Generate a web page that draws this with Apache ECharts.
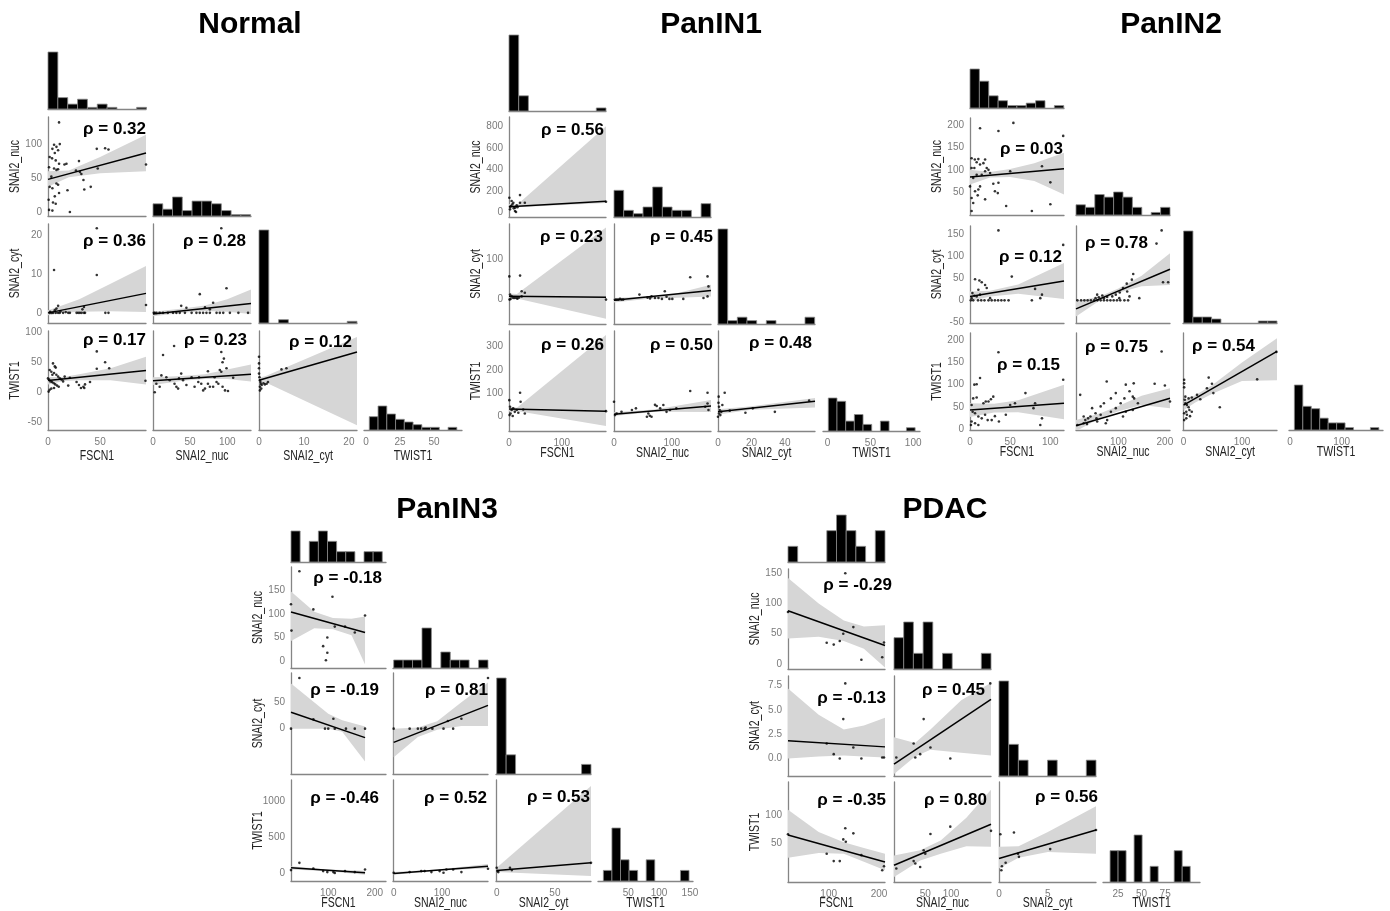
<!DOCTYPE html>
<html><head><meta charset="utf-8">
<script src="https://cdn.jsdelivr.net/npm/echarts@6/dist/echarts.min.js"></script>
<style>html,body{margin:0;padding:0;background:#fff}#c{width:1390px;height:911px}</style>
</head><body><div id="c"></div>
<script>
// ---------------- DATA ----------------
const VARS = ['FSCN1', 'SNAI2_nuc', 'SNAI2_cyt', 'TWIST1'];
// cell order used by all per-cell arrays: (row,col)
const CELL_ORDER = [[1, 0], [2, 0], [2, 1], [3, 0], [3, 1], [3, 2]];

// ---- Normal ----
const normalXRange = [[0, 94], [0, 132], [0, 21.8], [-1.5, 70.6]];
const normalYRange = [null, [-6, 140], [-2.6, 22.8], [-63, 102]];
const normalXTicks = [[0, 50], [0, 50, 100], [0, 10, 20], [0, 25, 50]];
const normalYTicks = [null, [0, 50, 100], [0, 10, 20], [-50, 0, 50, 100]];
const normalHistBins = [[0, 94.5], [0, 131.5], [0, 21.8], [2.4, 66.8]];
const normalHistCounts = [
  [35, 7, 3, 6, 1, 3, 1, 0, 0, 1],
  [9, 5, 14, 4, 11, 11, 9, 4, 1, 1],
  [56, 0, 2, 0, 0, 0, 0, 0, 0, 1],
  [5, 9, 6, 4, 3, 2, 1, 1, 0, 1]
];
const normalPts10 = [[10.6,132],[5.8,99],[8.1,96],[11.3,100],[4.2,93],[9.7,91],[6.5,87],[1.6,81],[3.9,79],[7.4,76],[10.6,71],[15.8,70],[5.8,64],[8.1,62],[9.7,63],[1,66],[3.2,52],[8.1,42],[9.7,40],[1.6,37],[4.2,35],[10.6,28],[6.5,23],[4.8,14],[7.4,12],[0.6,18],[1,3],[4.2,2],[21,0],[18.7,32],[17.7,71],[29.7,75],[26.8,61],[30.6,59],[32,56],[34,47],[34.8,33],[41,37],[46.8,93],[47.7,64],[54.8,94],[58,92],[94,70]];
const normalPts20 = [[46.8,21.7],[5.8,11],[46.8,9.7],[9.7,1.8],[8.1,1.1],[6.5,0.7],[1.6,0],[3.2,0],[4.8,0],[7.4,0],[9.7,0],[11.3,0],[14.5,0],[19.4,0],[21,0],[27.4,0],[29,0],[30.6,0],[32.3,0],[34.5,0],[35.5,0],[55,0],[58,0],[34.5,1.5],[33,0.9],[94,2],[2,0.3],[12,0.4],[17,0.2]];
const normalPts21 = [[92,21.7],[99,6.3],[63,4.8],[38,1.8],[45,1.3],[81,2.6],[70,1.4],[76.6,0.9],[1,0],[4.5,0],[9,0],[13.5,0],[20,0],[27,0],[31.5,0],[36,0],[43,0],[52,0],[58.5,0],[63,0],[67.5,0],[72,0],[76.6,0],[85.6,0],[90,0],[94.6,0],[103.6,0],[115,0],[128,0],[2,0]];
const normalPts30 = [[46.8,68],[54.8,50],[58.7,40],[46.8,39],[93.5,19],[40.3,17],[35.5,13],[33.9,9],[31.6,7],[34.8,7],[29.7,12],[27.4,17],[19.4,11],[21,24],[16,26],[4.8,48],[6.5,43],[7.4,41],[1.6,37],[3.2,34],[4.2,29],[5.8,32],[8,29],[9.7,26],[11.3,23],[1,21],[2.3,18],[3.9,17],[5.5,15],[7,13],[8.7,11],[10.3,9],[1.6,4],[3.2,6],[5.8,7],[12.9,21],[14.5,18],[0,23],[0.6,1]];
const normalPts31 = [[92,67],[28.4,77],[95.5,56],[93.7,50],[99,40],[90,37],[92,34],[13.5,62],[11.3,28],[38,31],[35,23],[40.5,20],[52,25],[62,25],[74,35],[83,25],[85.6,17],[88,14],[81,9],[93.7,9],[9,9],[4.5,14],[22.5,20],[29,14],[31.5,9],[33.8,6],[45,12],[56,9],[61,17],[65,14],[67.6,3],[70,6],[74,14],[76.6,9],[97,3],[101,2],[108,24],[2.3,0],[18,25]];
const normalPts32 = [[0,59],[0,48],[0,40],[0,31],[0.2,20],[0.4,14],[0.2,9],[0.2,3],[0.6,12],[1,15],[1.3,13],[1.7,14],[2,17],[5,38],[6.1,40],[0.1,25],[0.3,17],[0.5,6]];
const normalFits = [[0,48,94,87],[0,0,94,5],[0,-0.3,132,2.4],[0,19.4,94,36],[0,19,132,30],[0,20,21.8,67]];
const normalBands = [
  [[0,37,60],[20,51,61],[50,57,81],[94,60,114]],
  [[0,-0.6,0.7],[10,-0.1,1.6],[30,0.3,3.5],[60,0.4,7.5],[94,0.2,12]],
  [[0,-0.9,0.3],[40,0,1.1],[70,0.5,1.9],[100,0.3,3.5],[132,-0.3,6]],
  [[0,13,25.5],[15,18.5,25.5],[30,20,30],[60,20,40],[94,13,59]],
  [[0,12,25],[40,19,27],[70,22,30],[100,22,38],[132,18,46]],
  [[0,14,24],[1.5,16,27],[21.8,-55,92]]
];
const normalRho = ['0.32', '0.36', '0.28', '0.17', '0.23', '0.12'];

// ---- PanIN1 ----
const panin1XRange = [[0, 184], [0, 168], [0, 58], [-5.4, 108]];
const panin1YRange = [null, [-40, 886], [-61, 189], [-61, 367]];
const panin1XTicks = [[0, 100], [0, 100], [0, 20, 40], [0, 50, 100]];
const panin1YTicks = [null, [0, 200, 400, 600, 800], [0, 100], [0, 100, 200, 300]];
const panin1HistBins = [[0, 184], [0, 167.6], [0, 57.8], [0.8, 102.3]];
const panin1HistCounts = [
  [25, 5, 0, 0, 0, 0, 0, 0, 0, 1],
  [8, 2, 1, 3, 9, 3, 2, 2, 0, 4],
  [28, 1, 2, 1, 0, 1, 0, 0, 0, 2],
  [10, 9, 3, 5, 2, 0, 3, 0, 0, 1]
];
const panin1Pts10 = [[1.9,31],[3.8,62],[6.3,77],[8.2,92],[11.4,46],[14.6,68],[0.6,138],[20.9,163],[20.9,92],[11.4,15],[13.3,6],[30,92],[5,108],[2,55],[184,101],[9,40],[16,50]];
const panin1Pts20 = [[0.6,58],[21,60],[24,21],[30,17],[2,12.5],[5,8],[8,4],[11,4],[14.6,4],[3,1.7],[1,0],[24,8],[184,0],[16,2],[19,5]];
const panin1Pts21 = [[132,56],[162,58],[163.6,33],[162,8],[155,4],[91,7],[88,21],[44,12.5],[58,5],[62.4,3],[65,8],[71,4],[77,4],[83,1.7],[96,1.7],[101,1.7],[120,1.7],[1.7,0],[4.6,0],[7.5,0],[10.4,1.7],[13.3,0],[16,0]];
const panin1Pts30 = [[0.6,71],[21,103],[22,64],[1.9,43],[5,29],[8,36],[11,21],[14.6,29],[3,14],[17.7,17],[1,7],[27,31],[30,14],[7,3],[184,24]];
const panin1Pts31 = [[132,110],[162,103],[162,57],[163.6,29],[158,43],[85.5,50],[80,36],[74,46],[71,51],[59.5,14],[62,4],[38,36],[31,29],[57,0],[65,0],[13,21],[4.6,14],[1.7,7],[0,64],[97,29],[91,21],[108,36]];
const panin1Pts32 = [[4,103],[0.4,86],[0.6,43],[2.6,50],[1,29],[2,21],[0.6,14],[1.4,7],[7,26],[16.4,17],[20.8,36],[34,21],[54.5,69],[0,0],[0.3,60]];
const panin1Fits = [[0,55,184,105],[0,8.3,184,5.8],[0,-1.7,168,23],[0,33,184,24],[0,11,168,46],[0,21,58,66]];
const panin1Bands = [
  [[0,35,80],[15,50,72],[184,90,800]],
  [[0,2,15],[15,3,14],[184,-48,180]],
  [[0,-7,4],[60,2,8],[100,4,13],[168,8,37]],
  [[0,22,44],[15,25,38],[184,-40,350]],
  [[0,3,19],[70,21,31],[168,20,72]],
  [[0,10,32],[20,30,45],[58,40,80]]
];
const panin1Rho = ['0.56', '0.23', '0.45', '0.26', '0.50', '0.48'];

// ---- PanIN2 ----
const panin2XRange = [[0, 117], [9, 211], [-1, 160], [-2, 180]];
const panin2YRange = [null, [-1, 216], [-51.5, 169], [-2.3, 216.6]];
const panin2XTicks = [[0, 50, 100], [100, 200], [0, 100], [0, 100]];
const panin2YTicks = [null, [50, 100, 150, 200], [-50, 0, 50, 100, 150], [0, 50, 100, 150, 200]];
const panin2HistBins = [[0, 116.7], [9, 211], [0, 160], [8.4, 172]];
const panin2HistCounts = [
  [16, 11, 5, 3, 1, 1, 2, 3, 0, 1],
  [4, 3, 8, 7, 9, 7, 3, 0, 1, 3],
  [46, 3, 3, 2, 0, 0, 0, 0, 1, 1],
  [19, 10, 9, 5, 3, 3, 1, 0, 0, 1]
];
const panin2Pts10 = [[12.5,193],[54,205],[35.4,187],[116,176],[2,126],[6,123],[8.3,117],[10.4,124],[12.5,112],[16.7,115],[18.8,123],[20.8,104],[23,100],[18.8,97],[25,93],[14.6,89],[5.4,104],[2,104],[4,82],[8.3,89],[12.5,63],[10.4,56],[6.3,52],[9.6,43],[18.8,34],[2,37],[29,69],[35.4,71],[31,52],[34.6,48],[45,19],[50,97],[77,8],[89.6,108],[100,72],[100,23],[2,8],[4,26],[0,63]];
const panin2Pts20 = [[35.4,159],[116,126],[6.3,48],[11.7,45],[14.6,41],[18.8,35],[20.8,28],[10.4,24],[3,16.5],[5.4,10.5],[8.3,9],[12.5,13],[2,5],[1,0],[4,0],[10,0],[14,0],[18,0],[23,0],[27,0],[31,0],[35,0],[39,0],[43,0],[48,0],[25,5],[52,54],[81,26],[87.5,5],[89.6,13],[77,0]];
const panin2Pts21 = [[193,159],[182,129],[207,41],[196,41],[132,60],[129,47],[118,38],[110,28],[103,18],[94.5,13],[87,9],[76,7.5],[69,5],[58,7],[51,5],[119,20],[124,9],[102,5],[113,0],[121,0],[145,5],[54.5,13],[65.5,11],[12,0],[20,0],[27,0],[34,0],[41,0],[48,0],[55,0],[62,0],[69,0],[76,0],[83,0],[90,0],[97,0],[104,0]];
const panin2Pts30 = [[35.4,173],[116,111],[69,81],[5.4,100],[8.3,101],[12.5,115],[4,69],[8.3,71],[16.7,58],[19.6,62],[23,62],[26,67],[29,73],[2,54],[3.3,39],[6.3,35.5],[10.4,28],[14.6,24],[18.8,32],[22,20],[27,20],[31,29],[36,17],[44.6,32],[50,54],[56,58],[2,17],[1.2,9],[6.3,13],[10.4,9],[79,47],[87.5,9],[89.6,24],[81,58]];
const panin2Pts31 = [[193,175],[178,102],[200,98],[211,62],[133,103],[116,100],[124,85],[131,73],[134,69],[142,58],[131,43],[75,107],[94.5,81],[84,69],[69,58],[62,51],[43.6,47],[51,35.5],[40,28],[35,24],[29,20],[25.5,13],[32.7,11],[18,77],[12,9],[84,39],[94.5,47],[105,58],[110,28],[116,39],[76,20],[73,13],[62,32],[53,24],[54.5,17],[25.5,28],[113,69]];
const panin2Pts32 = [[159,174],[126,112],[43,116],[48.6,102],[40,92],[23,77],[8.6,69],[14,71],[1,111],[1,103],[1,94],[3,73],[2,66],[3,58],[5.7,54],[8.6,49],[10,43],[4.6,39],[1,35.5],[5.7,32],[11,29],[14,39],[62,49],[28.6,67],[51,81],[1,20],[4.6,24]];
const panin2Fits = [[0,84,117,102.6],[0,9,117,44],[9,-19.5,211,70.7],[0,43,117,58],[9,7.5,211,69.4],[0,54,160,175]];
const panin2Bands = [
  [[0,67,100],[25,83,95],[50,84,102],[80,75,115],[117,45,138]],
  [[0,-2,20],[25,9,22],[60,15,36],[117,3,85]],
  [[9,-37,-2],[60,-0.5,9],[100,17,27],[150,32,56],[211,35,107]],
  [[0,27,58],[30,37,57],[60,38,65],[117,22,100]],
  [[9,-5,20],[60,24,35],[100,40,52],[150,54,75],[211,47,92]],
  [[0,42,65],[20,60,76],[50,80,100],[100,108,150],[160,110,205]]
];
const panin2Rho = ['0.03', '0.12', '0.78', '0.15', '0.75', '0.54'];

// ---- PanIN3 ----
const panin3XRange = [[20, 224], [-1.4, 195], [-0.6, 81], [1, 155]];
const panin3YRange = [null, [-14.4, 200], [-85.6, 105], [-106, 1300]];
const panin3XTicks = [[100, 200], [0, 100], [0, 50], [50, 100, 150]];
const panin3YTicks = [null, [0, 50, 100, 150], [0, 50], [0, 500, 1000]];
const panin3HistBins = [[20, 216], [0, 195], [0, 81], [9.7, 148.6]];
const panin3HistCounts = [
  [3, 0, 2, 3, 2, 1, 1, 0, 1, 1],
  [1, 1, 1, 5, 0, 2, 1, 1, 0, 1],
  [10, 2, 0, 0, 0, 0, 0, 0, 0, 1],
  [1, 5, 2, 1, 0, 2, 0, 0, 0, 1]
];
const panin3Pts10 = [[38,191],[20,121],[68,110],[109,137],[114,73.5],[136,73.5],[157,61],[179,97],[21,65],[98,50.5],[89,32],[98,18],[95,2]];
const panin3Pts20 = [[38,95.6],[20,0],[68,17.5],[93,0],[100,0],[111,18.8],[114,0],[138,0],[157,0],[179,0]];
const panin3Pts21 = [[195,95.6],[140,18.8],[112,14.4],[103,0],[80,0],[64,0],[57,0],[50,0],[33,0],[0,0],[123,0],[66,2]];
const panin3Pts30 = [[38,147],[20,46],[68,69],[89,32],[98,18],[111,18],[114,5],[136,32],[157,18],[179,55]];
const panin3Pts31 = [[195,64.5],[140,18],[123,55],[109,55],[95,32],[78,18],[57,32],[33,18],[0,9],[64,32],[103,9]];
const panin3Pts32 = [[0,78],[0.6,32],[1.4,18],[11.4,78],[13,46],[81,147]];
const panin3Fits = [[20,104.5,179,61],[20,31,179,-17],[0,-26,195,44],[20,78,179,9],[0,0,195,101],[0,41,81,147]];
const panin3Bands = [
  [[20,43,148],[70,70,105],[110,68,92],[150,55,90],[179,-7,95]],
  [[20,0,85],[100,0,28],[130,-6,16],[179,-62,4]],
  [[0,-54,0],[50,-16,2],[90,-2,14],[140,5,50],[195,5,87]],
  [[20,55,100],[100,30,55],[179,-20,38]],
  [[0,-18,18],[90,35,55],[195,70,132]],
  [[0,18,78],[81,-37,1217]]
];
const panin3Rho = ['-0.18', '-0.19', '0.81', '-0.46', '0.52', '0.53'];

// ---- PDAC ----
const pdacXRange = [[19, 212], [-11, 178], [0, 9.93], [9, 112]];
const pdacYRange = [null, [-8.3, 157], [-1.8, 8.5], [-17.6, 157.6]];
const pdacXTicks = [[100, 200], [50, 100], [0, 5], [25, 50, 75]];
const pdacYTicks = [null, [0, 50, 100, 150], [0, 2.5, 5, 7.5], [50, 100]];
const pdacHistBins = [[19, 212], [-11, 178], [0, 9.93], [16.5, 101.6]];
const pdacHistCounts = [
  [1, 0, 0, 0, 2, 3, 2, 1, 0, 2],
  [2, 3, 1, 3, 0, 1, 0, 0, 0, 1],
  [6, 2, 1, 0, 0, 1, 0, 0, 0, 1],
  [2, 2, 0, 3, 0, 1, 0, 0, 2, 1]
];
const pdacPts10 = [[19,86],[133,150],[96,35],[110,32],[122,38],[129,50],[149,61],[165,7],[206.5,11],[210,35.5]];
const pdacPts20 = [[133,7.74],[129,4.06],[96,1.55],[110,0.45],[122,0],[149,1.13],[165,0],[206.5,0.1],[210,0.1]];
const pdacPts21 = [[176.6,7.74],[46.8,4.06],[27.3,1.55],[40,0.45],[30.5,0.1],[60,1.13],[98.7,0],[-6.5,0.1]];
const pdacPts30 = [[19,66],[133,76.5],[149,67.6],[96,32],[110,19],[122,19],[129,57],[134,53],[165,29.4],[206.5,3],[210,10]];
const pdacPts31 = [[178,72],[98.7,79.4],[60,66.5],[46.8,38],[50,32],[27.3,19],[30.5,14.7],[-6.5,6],[40,8.8]];
const pdacPts32 = [[0.14,66],[1.53,69],[5.24,40],[2.04,26.5],[1.94,32],[0.68,16],[0.3,10],[0.24,3],[9.93,73.5]];
const pdacFits = [[19,88,212,30.5],[19,1.82,212,1.2],[-11,-0.58,178,6.1],[19,64.7,212,17.6],[-11,11.8,178,83.5],[0,23.5,9.93,73.5]];
const pdacBands = [
  [[19,42,142],[80,45,100],[130,38,72],[170,25,62],[212,-6,64]],
  [[19,0,7.2],[80,0.2,4.5],[130,0.3,3.0],[170,0.2,3.4],[212,0.1,4.2]],
  [[-11,-1.6,2.2],[30,0.2,1.6],[60,0.9,3.0],[120,0.6,6],[178,0.3,7.8]],
  [[19,25,109],[80,33,70],[130,32,52],[170,18,42],[212,3,32]],
  [[-11,-9,29],[40,20,38],[80,32,55],[130,45,95],[178,44,144]],
  [[0,6,44],[2,25,45],[5,35,70],[9.93,32,115]]
];
const pdacRho = ['-0.29', '-0.13', '0.45', '-0.35', '0.80', '0.56'];

// ---------------- LAYOUT ----------------
const PANELS = [
  { title: 'Normal', tx: 250, ty: 25, colLeft: [48, 153, 259, 364], colW: 98, rowTop: [10, 117, 224, 331], rowH: 99,
    histTall: [57, 19, 93, 24], xTitleDy: 25,
    rhoPos: [[146,129,'right'],[146,241,'right'],[246,241,'right'],[146,340,'right'],[247,340,'right'],[352,342,'right']],
    xRange: normalXRange, yRange: normalYRange, xTicks: normalXTicks, yTicks: normalYTicks,
    histBins: normalHistBins, histCounts: normalHistCounts,
    pts: [normalPts10, normalPts20, normalPts21, normalPts30, normalPts31, normalPts32],
    fits: normalFits, bands: normalBands, rho: normalRho },
  { title: 'PanIN1', tx: 711, ty: 25, colLeft: [509, 614, 718, 823], colW: 97, rowTop: [11, 117, 224, 331], rowH: 100,
    histTall: [76, 30, 95, 33], xTitleDy: 21,
    rhoPos: [[604,130,'right'],[603,237,'right'],[713,237,'right'],[604,345,'right'],[713,345,'right'],[812,343,'right']],
    xRange: panin1XRange, yRange: panin1YRange, xTicks: panin1XTicks, yTicks: panin1YTicks,
    histBins: panin1HistBins, histCounts: panin1HistCounts,
    pts: [panin1Pts10, panin1Pts20, panin1Pts21, panin1Pts30, panin1Pts31, panin1Pts32],
    fits: panin1Fits, bands: panin1Bands, rho: panin1Rho },
  { title: 'PanIN2', tx: 1171, ty: 25, colLeft: [970, 1076, 1183, 1289], colW: 94, rowTop: [11, 118, 226, 333], rowH: 97,
    histTall: [39, 23, 92, 45], xTitleDy: 21,
    rhoPos: [[1063,149,'right'],[1062,257,'right'],[1085,243,'left'],[1060,365,'right'],[1085,347,'left'],[1192,346,'left']],
    xRange: panin2XRange, yRange: panin2YRange, xTicks: panin2XTicks, yTicks: panin2YTicks,
    histBins: panin2HistBins, histCounts: panin2HistCounts,
    pts: [panin2Pts10, panin2Pts20, panin2Pts21, panin2Pts30, panin2Pts31, panin2Pts32],
    fits: panin2Fits, bands: panin2Bands, rho: panin2Rho },
  { title: 'PanIN3', tx: 447, ty: 510, colLeft: [291, 393, 496, 598], colW: 95, rowTop: [461, 567, 673, 780], rowH: 101,
    histTall: [31, 40, 96, 53], xTitleDy: 21,
    rhoPos: [[382,578,'right'],[379,690,'right'],[488,690,'right'],[379,798,'right'],[487,798,'right'],[590,797,'right']],
    xRange: panin3XRange, yRange: panin3YRange, xTicks: panin3XTicks, yTicks: panin3YTicks,
    histBins: panin3HistBins, histCounts: panin3HistCounts,
    pts: [panin3Pts10, panin3Pts20, panin3Pts21, panin3Pts30, panin3Pts31, panin3Pts32],
    fits: panin3Fits, bands: panin3Bands, rho: panin3Rho },
  { title: 'PDAC', tx: 945, ty: 510, colLeft: [788, 894, 999, 1103], colW: 97, rowTop: [462, 569, 676, 782], rowH: 100,
    histTall: [47, 47, 95, 47], xTitleDy: 20,
    rhoPos: [[892,585,'right'],[886,698,'right'],[985,690,'right'],[886,800,'right'],[987,800,'right'],[1098,797,'right']],
    xRange: pdacXRange, yRange: pdacYRange, xTicks: pdacXTicks, yTicks: pdacYTicks,
    histBins: pdacHistBins, histCounts: pdacHistCounts,
    pts: [pdacPts10, pdacPts20, pdacPts21, pdacPts30, pdacPts31, pdacPts32],
    fits: pdacFits, bands: pdacBands, rho: pdacRho }
];

// ---------------- BUILD ----------------
const AXIS_COLOR = '#858585';
const TICK_COLOR = '#7a7a7a';
const FONT = '"Liberation Sans", Arial, Helvetica, sans-serif';
const grids = [], xAxes = [], yAxes = [], series = [], graphics = [];

function fmtFor(ticks) {
  const dec = ticks.some(t => !Number.isInteger(t));
  return v => dec ? Number(v).toFixed(1) : String(v);
}
function makeAxis(gi, range, ticks, showLabels, isX) {
  return {
    type: 'value', gridIndex: gi, min: range[0], max: range[1], scale: true,
    axisLine: { show: true, onZero: false, lineStyle: { color: AXIS_COLOR, width: 1.3 } },
    axisTick: { show: false },
    splitLine: { show: false },
    axisLabel: {
      show: showLabels, customValues: ticks || [], formatter: fmtFor(ticks || [0]),
      color: TICK_COLOR, fontSize: 10, fontFamily: FONT, margin: isX ? 7 : 6,
      hideOverlap: false
    }
  };
}

PANELS.forEach(P => {
  // title
  graphics.push({ type: 'text', x: P.tx, y: P.ty, silent: true,
    style: { text: P.title, font: 'bold 30px ' + FONT, fill: '#000', align: 'center', verticalAlign: 'middle', textAlign: 'center', textVerticalAlign: 'middle' } });

  // histograms on the diagonal
  for (let k = 0; k < 4; k++) {
    const gi = grids.length;
    const base = P.rowTop[k] + P.rowH;
    const tall = P.histTall[k];
    grids.push({ left: P.colLeft[k], top: base - tall, width: P.colW, height: tall, outerBoundsMode: 'none', containLabel: false });
    xAxes.push(makeAxis(gi, P.xRange[k], P.xTicks[k], k === 3, true));
    const counts = P.histCounts[k];
    const bins = P.histBins[k];
    const w = (bins[1] - bins[0]) / counts.length;
    yAxes.push({ type: 'value', gridIndex: gi, min: 0, max: Math.max.apply(null, counts), show: false, splitLine: { show: false } });
    series.push({
      type: 'custom', xAxisIndex: gi, yAxisIndex: gi, silent: true, clip: false,
      data: counts.map((c, idx) => [bins[0] + (idx + 0.5) * w, c]),
      renderItem: function (params, api) {
        const idx = params.dataIndex;
        const c = counts[idx];
        if (!c) return null;
        const p0 = api.coord([bins[0] + idx * w, 0]);
        const p1 = api.coord([bins[0] + (idx + 1) * w, c]);
        return { type: 'rect', shape: { x: p0[0], y: p1[1], width: p1[0] - p0[0], height: p0[1] - p1[1] },
          style: { fill: '#000', stroke: '#8a8a8a', lineWidth: 0.8 } };
      }
    });
  }

  // scatter cells
  CELL_ORDER.forEach((rc, ci) => {
    const i = rc[0], j = rc[1];
    const gi = grids.length;
    grids.push({ left: P.colLeft[j], top: P.rowTop[i], width: P.colW, height: P.rowH, outerBoundsMode: 'none', containLabel: false });
    xAxes.push(makeAxis(gi, P.xRange[j], P.xTicks[j], i === 3, true));
    yAxes.push(makeAxis(gi, P.yRange[i], P.yTicks[i], j === 0, false));
    const band = P.bands[ci];
    series.push({
      type: 'custom', xAxisIndex: gi, yAxisIndex: gi, silent: true, clip: true, z: 1,
      data: band.map(t => [t[0], t[1]]),
      renderItem: function (params, api) {
        if (params.dataIndex !== 0) return null;
        const up = band.map(t => api.coord([t[0], t[2]]));
        const lo = band.slice().reverse().map(t => api.coord([t[0], t[1]]));
        return { type: 'polygon', shape: { points: up.concat(lo) }, style: { fill: '#d6d6d6' } };
      }
    });
    series.push({
      type: 'scatter', xAxisIndex: gi, yAxisIndex: gi, silent: true, z: 3,
      data: P.pts[ci], symbol: 'circle', symbolSize: 2.6,
      itemStyle: { color: '#000' }
    });
    const f = P.fits[ci];
    series.push({
      type: 'line', xAxisIndex: gi, yAxisIndex: gi, silent: true, z: 4,
      data: [[f[0], f[1]], [f[2], f[3]]], showSymbol: false, symbol: 'none',
      lineStyle: { color: '#000', width: 1.5 }
    });
    // rho label
    const rp = P.rhoPos[ci];
    graphics.push({ type: 'text', x: rp[0], y: rp[1], silent: true, z: 100,
      style: { text: '\u03c1 = ' + P.rho[ci], font: 'bold 17px ' + FONT, fill: '#000',
        align: rp[2], verticalAlign: 'middle', textAlign: rp[2], textVerticalAlign: 'middle' } });
  });

  // axis titles
  const bottom = P.rowTop[3] + P.rowH;
  for (let k = 0; k < 4; k++) {
    graphics.push({ type: 'text', x: P.colLeft[k] + P.colW / 2, y: bottom + P.xTitleDy + 1, scaleX: 0.7, silent: true,
      style: { text: VARS[k], font: '15px ' + FONT, fill: '#222', align: 'center', verticalAlign: 'middle', textAlign: 'center', textVerticalAlign: 'middle' } });
  }
  for (let r = 1; r < 4; r++) {
    graphics.push({ type: 'text', x: P.colLeft[0] - 33, y: P.rowTop[r] + P.rowH / 2, rotation: Math.PI / 2, scaleX: 0.7, silent: true,
      style: { text: VARS[r], font: '15px ' + FONT, fill: '#222', align: 'center', verticalAlign: 'middle', textAlign: 'center', textVerticalAlign: 'middle' } });
  }
});

const chart = echarts.init(document.getElementById('c'), null, { renderer: 'canvas', width: 1390, height: 911 });
chart.setOption({
  animation: false,
  backgroundColor: '#fff',
  grid: grids, xAxis: xAxes, yAxis: yAxes, series: series,
  graphic: { elements: graphics }
});
</script>
</body></html>
